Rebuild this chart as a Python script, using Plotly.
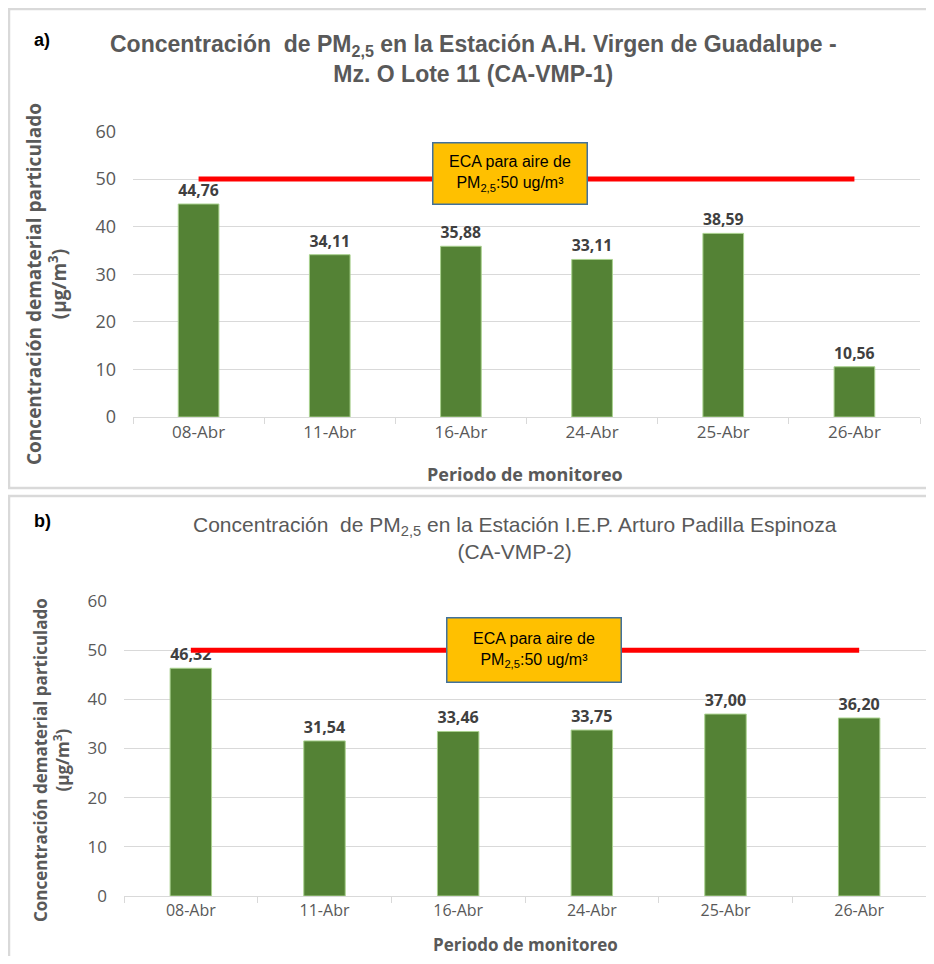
import plotly.graph_objects as go

categories = ["08-Abr", "11-Abr", "16-Abr", "24-Abr", "25-Abr", "26-Abr"]
values_a = [44.76, 34.11, 35.88, 33.11, 38.59, 10.56]
values_b = [46.32, 31.54, 33.46, 33.75, 37.00, 36.20]
eca_limit = 50
y_ticks = [0, 10, 20, 30, 40, 50, 60]

title_a = "<b>Concentración  de PM<sub>2,5</sub> en la Estación A.H. Virgen de Guadalupe -<br>Mz. O Lote 11 (CA-VMP-1)</b>"
title_b = "Concentración  de PM<sub>2,5</sub> en la Estación I.E.P. Arturo Padilla Espinoza<br>(CA-VMP-2)"
y_title = "<b>Concentración dematerial particulado<br>(µg/m<sup>3</sup>)</b>"
x_title = "<b>Periodo de monitoreo</b>"
eca_text = "ECA para aire de<br>PM<sub>2,5</sub>:50 ug/m³"

# page body has an 8px margin: the figure is sized to fit inside it
OFF = 8
W, H = 934 - 2 * OFF, 964 - 2 * OFF
def px(x):
    return min(1.0, (x - OFF) / W)
def py(y):
    return 1 - (y - OFF) / H

ARIAL = "Liberation Sans, Arial, sans-serif"
SANS = "Open Sans, DejaVu Sans, sans-serif"
GREY = "#595959"
GRID = "#D9D9D9"

fig = go.Figure()
for vals, xa, ya in [(values_a, "x", "y"), (values_b, "x2", "y2")]:
    fig.add_trace(go.Bar(
        x=categories, y=vals, xaxis=xa, yaxis=ya,
        marker=dict(color="#548235", line=dict(color="#A9D18E", width=1)),
        texttemplate="<b>%{y:.2f}</b>", textposition="outside",
        textfont=dict(family=SANS, size=19, color="#404040"),
        cliponaxis=False, width=0.31, showlegend=False,
    ))
    fig.add_trace(go.Scatter(
        x=[categories[0], categories[-1]], y=[eca_limit, eca_limit],
        xaxis=xa, yaxis=ya, mode="lines",
        line=dict(color="#FF0000", width=5), showlegend=False,
        hoverinfo="skip",
    ))

def xax(size):
    return dict(type="category", showline=True, linecolor=GRID, linewidth=1,
                ticks="outside", tickson="boundaries", ticklen=6, tickcolor=GRID,
                tickfont=dict(family=SANS, size=size, color=GREY), showgrid=False,
                fixedrange=True, automargin=False)
def yax(size):
    return dict(range=[0, 60], tickvals=y_ticks, showgrid=True, gridcolor=GRID,
                gridwidth=1, zeroline=False, showline=False, ticks="",
                ticklabelstandoff=16, automargin=False,
                tickfont=dict(family=SANS, size=size, color=GREY), fixedrange=True)

fig.update_layout(
    width=W, height=H, margin=dict(l=0, r=0, t=0, b=0, pad=0, autoexpand=False),
    paper_bgcolor="white", plot_bgcolor="white", separators=",.",
    bargap=0.69, showlegend=False,
    xaxis=dict(domain=[px(133), px(920)], anchor="y", **xax(17)),
    yaxis=dict(domain=[py(417), py(131.5)], anchor="x", **yax(18)),
    xaxis2=dict(domain=[px(124), px(932)], anchor="y2", **xax(16)),
    yaxis2=dict(domain=[py(896), py(601)], anchor="x2", **yax(17)),
)

shapes = [
    dict(type="rect", xref="paper", yref="paper", x0=px(9), x1=1.02, y0=py(488), y1=py(9),
         line=dict(color=GRID, width=2.5), fillcolor="rgba(0,0,0,0)", layer="below"),
    dict(type="rect", xref="paper", yref="paper", x0=px(9), x1=1.02, y0=-0.02, y1=py(496),
         line=dict(color=GRID, width=2.5), fillcolor="rgba(0,0,0,0)", layer="below"),
]
fig.update_layout(shapes=shapes)

ann = []
def add_ann(text, x, y, font, **kw):
    d = dict(text=text, x=px(x), y=py(y), xref="paper", yref="paper",
             showarrow=False, xanchor="center", yanchor="middle", font=font)
    d.update(kw)
    ann.append(d)

add_ann("<b>a)</b>", 42, 40, dict(family=ARIAL, size=18, color="black"))
add_ann("<b>b)</b>", 42, 521, dict(family=ARIAL, size=18, color="black"))
add_ann(title_a, 473, 59, dict(family=ARIAL, size=23, color=GREY))
add_ann(title_b, 515, 538, dict(family=ARIAL, size=21, color=GREY))
add_ann(y_title, 46, 284, dict(family=SANS, size=19, color=GREY), textangle=-90)
add_ann(y_title, 51, 760, dict(family=SANS, size=17, color=GREY), textangle=-90)
add_ann(x_title, 525, 474, dict(family=SANS, size=18, color=GREY))
add_ann(x_title, 525, 944, dict(family=SANS, size=17, color=GREY))
for cx, cy, w, h in [(510, 174, 151, 58), (534, 650, 171, 61)]:
    add_ann(eca_text, cx, cy, dict(family=ARIAL, size=16, color="black"),
            width=w, height=h, align="center", valign="middle",
            bgcolor="#FFC000", bordercolor="#41719C", borderwidth=1.5, borderpad=1)
fig.update_layout(annotations=ann)

fig.write_html("out.html")
